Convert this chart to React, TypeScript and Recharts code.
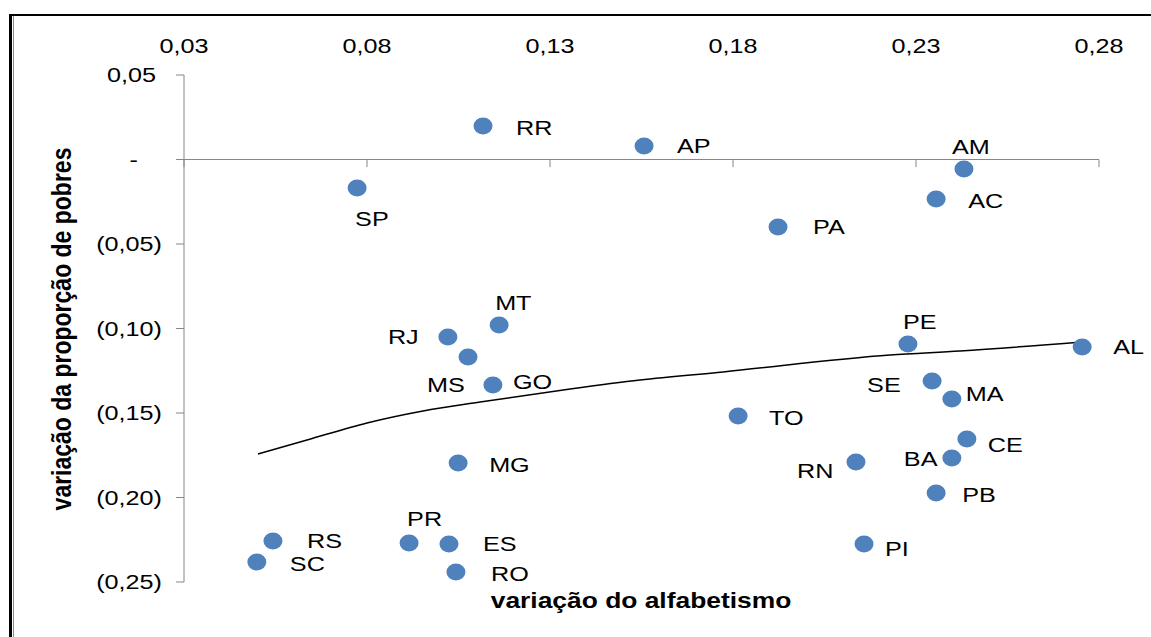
import { ComposedChart, Scatter, Line, XAxis, YAxis, ReferenceLine } from 'recharts';

const states = ['RR', 'AP', 'AM', 'AC', 'SP', 'PA', 'MT', 'RJ', 'MS', 'GO', 'MG', 'TO', 'PE', 'AL', 'SE', 'MA', 'CE', 'BA', 'RN', 'PB', 'PI', 'RS', 'SC', 'PR', 'ES', 'RO'];
const alfabetismo = [0.1117, 0.1557, 0.2431, 0.2355, 0.0773, 0.1923, 0.1161, 0.1021, 0.1076, 0.1144, 0.1049, 0.1814, 0.2278, 0.2754, 0.2344, 0.2398, 0.2439, 0.2398, 0.2136, 0.2355, 0.2158, 0.0543, 0.0499, 0.0915, 0.1024, 0.1043];
const pobres = [0.0198, 0.008, -0.0056, -0.0234, -0.0169, -0.0399, -0.0979, -0.105, -0.1169, -0.1334, -0.1796, -0.1518, -0.1092, -0.1109, -0.1311, -0.1417, -0.1654, -0.1766, -0.179, -0.1973, -0.2275, -0.2257, -0.2382, -0.2269, -0.2275, -0.2441];

// trendline
const trendX = [0.0502, 0.0636, 0.08, 0.0953, 0.1109, 0.1355, 0.1546, 0.1773, 0.2229, 0.242, 0.2754];
const trendY = [-0.1743, -0.166, -0.1559, -0.1488, -0.1435, -0.1358, -0.1305, -0.1257, -0.1157, -0.1133, -0.108];

const xTicks = [0.03, 0.08, 0.13, 0.18, 0.23, 0.28];
const yTicks = [0.05, 0, -0.05, -0.1, -0.15, -0.2, -0.25];

// label offsets (px) from the dot: left edge, vertical centre
const labelOffset: Record<string, [number, number]> = {
  RR: [33, 1], AP: [33, 0], AM: [-12, -22], AC: [32, 1], SP: [-2, 30], PA: [35, 0],
  MT: [-4, -22], RJ: [-60, 0], MS: [-41, 27], GO: [20, -3], MG: [31, 1], TO: [31, 1],
  PE: [-5, -23], AL: [31, 0], SE: [-65, 3], MA: [14, -5], CE: [21, 5], BA: [-48, 1],
  RN: [-59, 8], PB: [26, 2], PI: [21, 5], RS: [34, 0], SC: [33, 1], PR: [-2, -24],
  ES: [34, 0], RO: [35, 1],
};

const points = states.map((s, i) => ({ uf: s, x: alfabetismo[i], y: pobres[i] }));
const trend = trendX.map((x, i) => ({ x, t: trendY[i] }));

const FONT = '"Liberation Sans", Arial, sans-serif';
const STRETCH = 1.2;

const fmt = (v: number) => Math.abs(v).toFixed(2).replace('.', ',');

function XTick({ x, payload }: any) {
  return (
    <text transform={`translate(${x},53) scale(${STRETCH},1)`} textAnchor="middle" fontSize={21} fontFamily={FONT} fill="#000">
      {fmt(payload.value)}
    </text>
  );
}

function YTick({ x, y, payload }: any) {
  const v = payload.value;
  const label = Math.abs(v) < 1e-9 ? '-' : v < 0 ? `(${fmt(v)})` : fmt(v);
  const shift = Math.abs(v) < 1e-9 ? 36 : v < 0 ? 12 : 18;
  return (
    <text transform={`translate(${x - shift},${y + 7}) scale(${STRETCH},1)`} textAnchor="end" fontSize={21} fontFamily={FONT} fill="#000">
      {label}
    </text>
  );
}

function Dot(props: any) {
  const { cx, cy, payload } = props;
  const off = labelOffset[payload.uf] || [32, 0];
  return (
    <g>
      <ellipse cx={cx} cy={cy} rx={9.5} ry={8.5} fill="#4F81BD" />
      <text transform={`translate(${cx + off[0]},${cy + off[1] + 7.5}) scale(${STRETCH},1)`} fontSize={21} fontFamily={FONT} fill="#000">
        {payload.uf}
      </text>
    </g>
  );
}

export default function App() {
  return (
    <div style={{ position: 'absolute', left: 0, top: 0, width: 1151, height: 637, background: '#fff' }}>
      <div style={{ position: 'absolute', left: 9, top: 14, right: 0, bottom: 0, borderTop: '2px solid #000', borderLeft: '3px solid #000' }} />
      <div style={{ position: 'absolute', left: 13, top: 16, bottom: 0, width: 1, background: '#8c8c8c' }} />
      <div style={{ position: 'absolute', left: 0, top: 0 }}>
        <ComposedChart width={1151} height={637} margin={{ top: 0, right: 52, bottom: 55, left: 0 }}>
          <XAxis
            type="number"
            dataKey="x"
            orientation="top"
            domain={[0.03, 0.28]}
            ticks={xTicks}
            height={75}
            axisLine={false}
            tickLine={false}
            tick={<XTick />}
            interval={0}
            allowDuplicatedCategory={false}
          />
          <YAxis
            type="number"
            domain={[-0.25, 0.05]}
            ticks={yTicks}
            width={184}
            stroke="#868686"
            tickSize={8}
            tick={<YTick />}
            interval={0}
          />
          <ReferenceLine y={0} stroke="#868686" strokeWidth={1} />
          {xTicks.map((t) => (
            <ReferenceLine key={t} segment={[{ x: t, y: 0 }, { x: t, y: -0.0045 }]} stroke="#868686" />
          ))}
          <Scatter data={points} dataKey="y" shape={<Dot />} isAnimationActive={false} />
          <Line data={trend} dataKey="t" type="monotone" stroke="#000" strokeWidth={1.5} dot={false} activeDot={false} isAnimationActive={false} />
        </ComposedChart>
      </div>
      <svg width={1151} height={637} style={{ position: 'absolute', left: 0, top: 0, pointerEvents: 'none' }}>
        <text transform={`translate(641,608) scale(${STRETCH},1)`} textAnchor="middle" fontSize={22} fontWeight="bold" fontFamily={FONT} fill="#000">
          variação do alfabetismo
        </text>
        <text transform={`translate(71,329) scale(${STRETCH},1) rotate(-90)`} textAnchor="middle" fontSize={23} fontWeight="bold" fontFamily={FONT} fill="#000">
          variação da proporção de pobres
        </text>
      </svg>
    </div>
  );
}
